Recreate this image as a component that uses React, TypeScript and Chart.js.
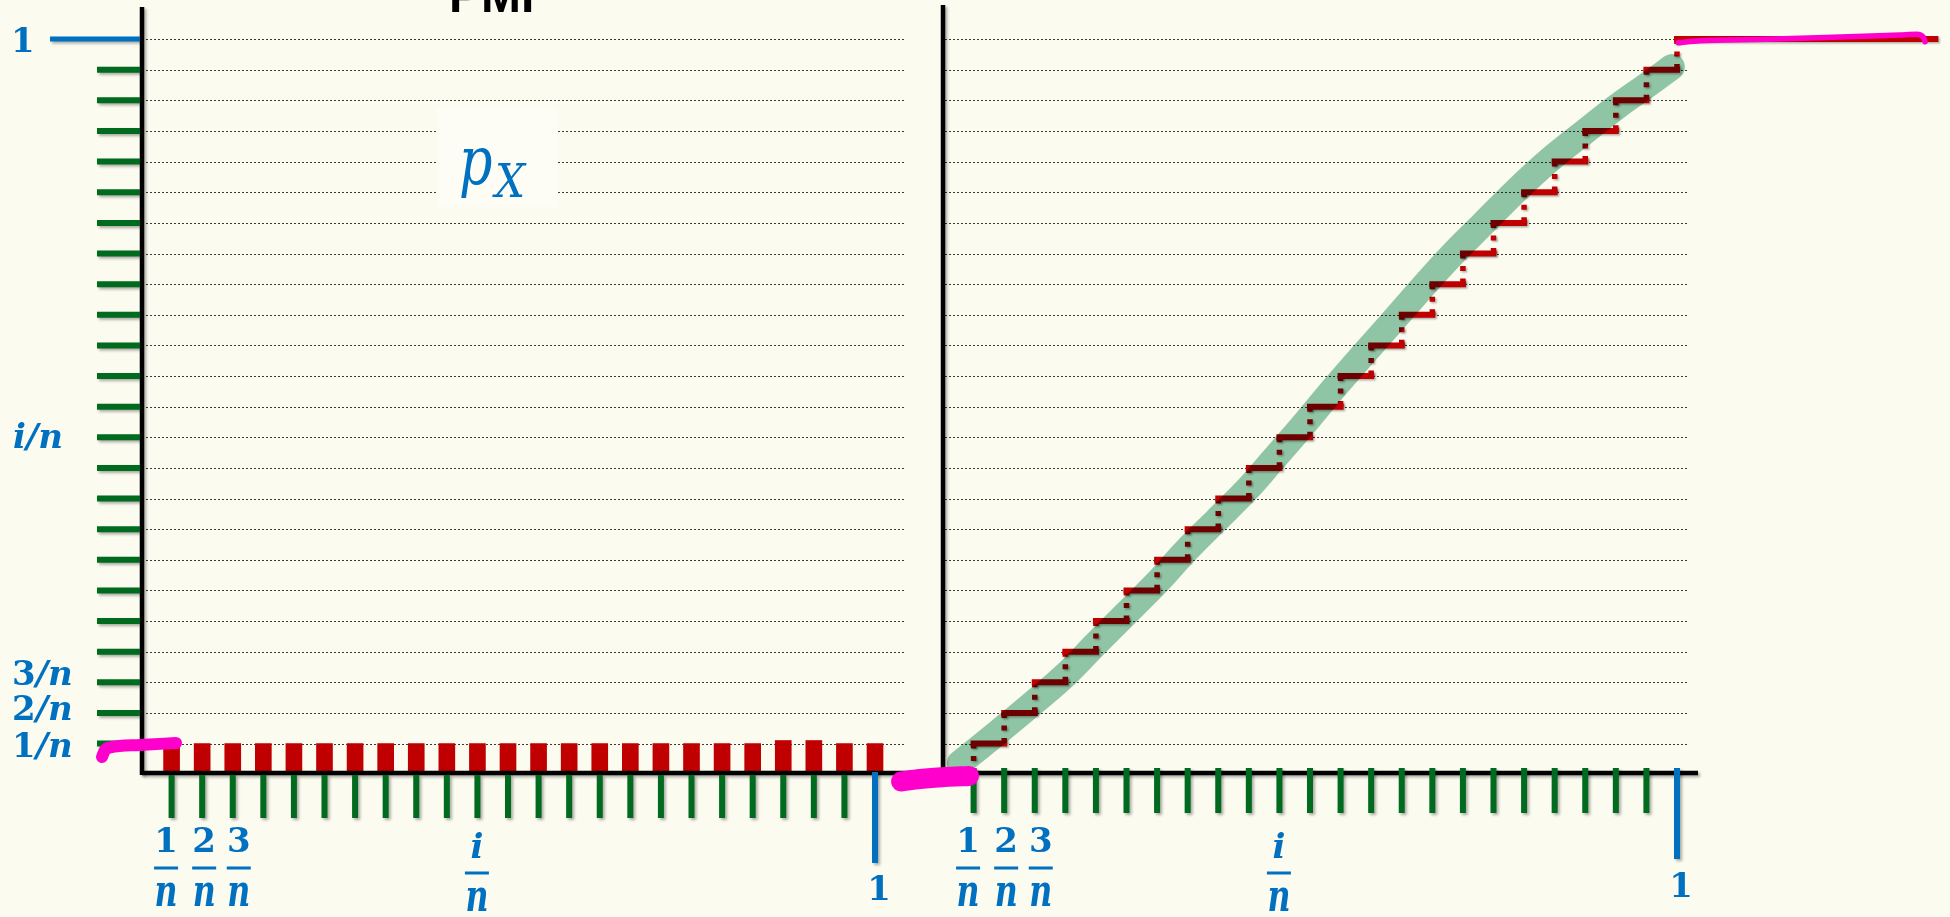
import React, { useEffect, useRef } from "react";
import { Chart, registerables } from "chart.js";

Chart.register(...registerables);

const W = 1950;
const H = 917;

// ---------------- data ----------------
const n = 24;
const tickIndex = [1, 2, 3, 4, 5, 6, 7, 8, 9, 10, 11, 12, 13, 14, 15, 16, 17, 18, 19, 20, 21, 22, 23, 24];
// PMF bar heights in grid units (1 unit = 1/n)
const pmfHeights = [1, 1, 1, 1, 1, 1, 1, 1, 1, 1, 1, 1, 1, 1, 1, 1, 1, 1, 1, 1, 1.1, 1.1, 1, 1];
// CDF step levels in grid units
const cdfLevels = [1, 2, 3, 4, 5, 6, 7, 8, 9, 10, 11, 12, 13, 14, 15, 16, 17, 18, 19, 20, 21, 22, 23, 24];
const cdfTailEnd = 1.352;
// hand-drawn green band along the CDF
const bandX = [0.023, 0.075, 0.128, 0.169, 0.209, 0.25, 0.291, 0.332, 0.373, 0.414, 0.45, 0.49, 0.53, 0.57, 0.61, 0.652, 0.694, 0.736, 0.782, 0.827, 0.872, 0.918, 0.963, 0.993];
const bandY = [0.015, 0.057, 0.101, 0.137, 0.178, 0.219, 0.26, 0.305, 0.346, 0.387, 0.428, 0.474, 0.522, 0.568, 0.613, 0.661, 0.707, 0.749, 0.795, 0.836, 0.872, 0.908, 0.94, 0.962];
// pink highlighter strokes
const pinkLeftX = [-0.0531, -0.049, -0.0422, -0.0014, 0.0477];
const pinkLeftY = [0.0234, 0.0329, 0.0363, 0.0397, 0.0425];
const pinkMidX = [-0.0572, -0.0313, 0.0027, 0.0354];
const pinkMidY = [-0.0099, -0.0065, -0.0038, -0.0024];
const pinkTopX = [1.0018, 1.0313, 1.1222, 1.2125, 1.3038, 1.3266, 1.3356, 1.3379];
const pinkTopY = [0.9951, 0.9978, 0.9997, 1.0025, 1.0057, 1.0065, 1.0025, 0.9965];
// labels
const yLabelLevels = [24, 11, 3, 2, 1];
const yLabelTexts = ["1", "i/n", "3/n", "2/n", "1/n"];
const xFracTicks = [1, 2, 3, 11];
const xFracNumerators = ["1", "2", "3", "i"];
const xFracDenominator = "n";
const xEndTick = 24;
const xEndLabel = "1";
const titleText = "PMF";

// ---------------- styling / layout ----------------
const BG = "#fbfbf0";
const RED = "#c00000";
const GREEN = "#006a1e";
const BLUE = "#0070c0";
const PINK = "#ff00cc";
const BAND = "rgb(145,199,174)";
const X0L = 141;
const X0R = 943;
const UX = 734;
const Y0 = 774.2;
const UY = 735.1;
const SERIF = '"DejaVu Serif"';

type Seg = { t: string; f: string };

function segsFor(text: string, size: number): Seg[] {
  return text.split("").map((ch) => ({
    t: ch,
    f: /[0-9]/.test(ch) ? `bold ${size}px ${SERIF}` : `italic bold ${size}px ${SERIF}`,
  }));
}

function drawSegs(ctx: CanvasRenderingContext2D, segs: Seg[], x: number, y: number, center: boolean, sx = 1) {
  ctx.save();
  let total = 0;
  const widths = segs.map((s) => {
    ctx.font = s.f;
    const w = ctx.measureText(s.t).width;
    total += w;
    return w;
  });
  ctx.translate(x, y);
  ctx.scale(sx, 1);
  ctx.textAlign = "left";
  ctx.textBaseline = "alphabetic";
  let cx = center ? -total / 2 : 0;
  segs.forEach((s, i) => {
    ctx.font = s.f;
    ctx.fillText(s.t, cx, 0);
    cx += widths[i];
  });
  ctx.restore();
}

function line(ctx: CanvasRenderingContext2D, x1: number, y1: number, x2: number, y2: number) {
  ctx.beginPath();
  ctx.moveTo(x1, y1);
  ctx.lineTo(x2, y2);
  ctx.stroke();
}

function setShadow(ctx: CanvasRenderingContext2D) {
  ctx.shadowColor = "rgba(0,0,0,0.32)";
  ctx.shadowBlur = 3;
  ctx.shadowOffsetX = 2;
  ctx.shadowOffsetY = 2;
}

function drawAxes(chart: any) {
  const ctx: CanvasRenderingContext2D = chart.ctx;
  const y = chart.scales.y;
  const xL = chart.scales.xL;
  const xR = chart.scales.xR;
  ctx.save();
  setShadow(ctx);
  ctx.lineCap = "butt";
  ctx.strokeStyle = "#000";
  ctx.lineWidth = 4.5;
  line(ctx, 142, 7, 142, 775);
  line(ctx, 943, 5, 943, 775);
  line(ctx, 142, 773, 1698, 773);

  // y ticks (left panel)
  cdfLevels.forEach((lv) => {
    const py = y.getPixelForValue(lv / n);
    if (lv === n) {
      ctx.strokeStyle = BLUE;
      ctx.lineWidth = 5;
      line(ctx, 50, py, 140, py);
    } else {
      ctx.strokeStyle = GREEN;
      ctx.lineWidth = 6;
      line(ctx, 97, py, 140, py);
    }
  });

  // x ticks
  tickIndex.forEach((k) => {
    const pl = xL.getPixelForValue(k / n);
    const pr = xR.getPixelForValue(k / n);
    ctx.lineWidth = 6;
    if (k === xEndTick) {
      ctx.strokeStyle = BLUE;
      line(ctx, pl, 772, pl, 863);
      line(ctx, pr, 768, pr, 859);
    } else {
      ctx.strokeStyle = GREEN;
      line(ctx, pl, 775, pl, 818);
      line(ctx, pr, 768, pr, 813);
    }
  });
  ctx.restore();
}

const decor = {
  id: "decor",
  beforeDraw(chart: any) {
    const ctx: CanvasRenderingContext2D = chart.ctx;
    ctx.save();
    ctx.fillStyle = BG;
    ctx.fillRect(0, 0, chart.width, chart.height);
    ctx.restore();
  },
  beforeDatasetsDraw(chart: any) {
    const ctx: CanvasRenderingContext2D = chart.ctx;
    const y = chart.scales.y;
    const xL = chart.scales.xL;
    const xR = chart.scales.xR;
    ctx.save();
    // dotted grid lines
    ctx.strokeStyle = "rgba(25,25,25,0.85)";
    ctx.lineWidth = 1;
    ctx.setLineDash([2, 2]);
    cdfLevels.forEach((lv) => {
      const py = Math.round(y.getPixelForValue(lv / n)) + 0.5;
      ctx.beginPath();
      ctx.moveTo(134, py);
      ctx.lineTo(905, py);
      ctx.moveTo(941, py);
      ctx.lineTo(1688, py);
      ctx.stroke();
    });
    ctx.setLineDash([]);

    // p_X label box
    ctx.fillStyle = "#fdfdf6";
    ctx.fillRect(437, 108, 121, 99);
    ctx.fillStyle = BLUE;
    ctx.save();
    ctx.translate(459, 184);
    ctx.scale(0.78, 1);
    ctx.font = `italic 67px ${SERIF}`;
    ctx.fillText("p", 0, 0);
    ctx.restore();
    ctx.save();
    ctx.translate(495, 197);
    ctx.scale(0.92, 1);
    ctx.font = `italic 46px ${SERIF}`;
    ctx.fillText("X", 0, 0);
    ctx.restore();

    // title (mostly cut off at the top)
    ctx.fillStyle = "#000";
    ctx.font = 'bold 48px "Liberation Sans"';
    ctx.fillText(titleText, 449, 12);

    // y labels
    ctx.fillStyle = BLUE;
    const yOff = [13, 11, 3, 7, 13];
    const xPos = [11, 13, 12, 12, 12];
    yLabelLevels.forEach((lv, i) => {
      const py = y.getPixelForValue(lv / n) + yOff[i];
      drawSegs(ctx, segsFor(yLabelTexts[i], 34), xPos[i], py, false);
    });

    // x fraction labels, both panels
    const dx = [-5.5, 2, 6, -0.5];
    const numBase = [852, 852, 852, 858];
    const barY = [868, 868, 868, 873];
    const denBase = [906, 906, 906, 911];
    [xL, xR].forEach((sc) => {
      xFracTicks.forEach((k, i) => {
        const cx = sc.getPixelForValue(k / n) + dx[i];
        drawSegs(ctx, segsFor(xFracNumerators[i], 34), cx, numBase[i], true);
        ctx.fillRect(cx - 12, barY[i] - 1.5, 24, 3);
        drawSegs(ctx, [{ t: xFracDenominator, f: `italic bold 44px ${SERIF}` }], cx, denBase[i], true, 0.72);
      });
      const ex = sc.getPixelForValue(xEndTick / n) + 4;
      drawSegs(ctx, segsFor(xEndLabel, 34), ex, sc === xL ? 900 : 897, true);
    });
    ctx.restore();
  },
  beforeDatasetDraw(chart: any, args: any) {
    const lbl = chart.data.datasets[args.index].label;
    const ctx: CanvasRenderingContext2D = chart.ctx;
    if (lbl === "band") {
      ctx.save();
      ctx.globalCompositeOperation = "multiply";
    } else if (lbl === "stepsH" || lbl === "stepsV") {
      ctx.save();
      ctx.shadowColor = "rgba(0,0,0,0.3)";
      ctx.shadowBlur = 2;
      ctx.shadowOffsetX = 1.5;
      ctx.shadowOffsetY = 1.5;
    }
  },
  afterDatasetDraw(chart: any, args: any) {
    const lbl = chart.data.datasets[args.index].label;
    if (lbl === "band" || lbl === "stepsH" || lbl === "stepsV") chart.ctx.restore();
    if (lbl === "pmf") drawAxes(chart);
  },
};

function zipXY(xs: number[], ys: number[]) {
  return xs.map((x, i) => ({ x, y: ys[i] }));
}

export default function App() {
  const ref = useRef<HTMLCanvasElement | null>(null);

  useEffect(() => {
    document.body.style.margin = "0";
    document.body.style.background = BG;
    if (!ref.current) return;

    const stepsH: { x: number; y: number | null }[] = [];
    cdfLevels.forEach((lv, i) => {
      const x1 = tickIndex[i] / n;
      const x2 = i < cdfLevels.length - 1 ? tickIndex[i + 1] / n : cdfTailEnd;
      stepsH.push({ x: x1, y: lv / n }, { x: x2, y: lv / n }, { x: x2, y: null });
    });
    const stepsV: { x: number; y: number | null }[] = [];
    cdfLevels.forEach((lv, i) => {
      const x = tickIndex[i] / n;
      stepsV.push({ x, y: lv / n }, { x, y: (lv - 1) / n }, { x, y: null });
    });

    const chart = new Chart(ref.current, {
      type: "bar",
      data: {
        datasets: [
          {
            type: "bar",
            label: "pmf",
            data: tickIndex.map((k, i) => ({ x: k / n, y: pmfHeights[i] / n })),
            backgroundColor: RED,
            borderWidth: 0,
            barThickness: 16,
            grouped: false,
            xAxisID: "xL",
            yAxisID: "y",
            order: 10,
          } as any,
          {
            type: "line",
            label: "stepsH",
            data: stepsH,
            borderColor: RED,
            borderWidth: 6,
            borderCapStyle: "square",
            pointRadius: 0,
            spanGaps: false,
            fill: false,
            xAxisID: "xR",
            yAxisID: "y",
            order: 6,
          } as any,
          {
            type: "line",
            label: "stepsV",
            data: stepsV,
            borderColor: RED,
            borderWidth: 5.5,
            borderDash: [5, 7.5],
            borderCapStyle: "butt",
            pointRadius: 0,
            spanGaps: false,
            fill: false,
            xAxisID: "xR",
            yAxisID: "y",
            order: 6,
          } as any,
          {
            type: "line",
            label: "band",
            data: zipXY(bandX, bandY),
            borderColor: BAND,
            borderWidth: 26,
            borderCapStyle: "round",
            borderJoinStyle: "round",
            tension: 0.35,
            pointRadius: 0,
            fill: false,
            xAxisID: "xR",
            yAxisID: "y",
            order: 4,
          } as any,
          {
            type: "line",
            label: "pinkLeft",
            data: zipXY(pinkLeftX, pinkLeftY),
            borderColor: PINK,
            borderWidth: 12,
            borderCapStyle: "round",
            borderJoinStyle: "round",
            cubicInterpolationMode: "monotone",
            pointRadius: 0,
            fill: false,
            xAxisID: "xL",
            yAxisID: "y",
            order: 1,
          } as any,
          {
            type: "line",
            label: "pinkMid",
            data: zipXY(pinkMidX, pinkMidY),
            borderColor: PINK,
            borderWidth: 20,
            borderCapStyle: "round",
            borderJoinStyle: "round",
            cubicInterpolationMode: "monotone",
            pointRadius: 0,
            fill: false,
            xAxisID: "xR",
            yAxisID: "y",
            order: 1,
          } as any,
          {
            type: "line",
            label: "pinkTop",
            data: zipXY(pinkTopX, pinkTopY),
            borderColor: PINK,
            borderWidth: 5.5,
            borderCapStyle: "round",
            borderJoinStyle: "round",
            cubicInterpolationMode: "monotone",
            pointRadius: 0,
            fill: false,
            xAxisID: "xR",
            yAxisID: "y",
            order: 1,
          } as any,
        ],
      },
      options: {
        responsive: false,
        animation: false,
        devicePixelRatio: 1,
        events: [],
        layout: { padding: 0 },
        plugins: {
          legend: { display: false },
          tooltip: { enabled: false },
          title: { display: false },
        },
        scales: {
          xL: {
            type: "linear",
            axis: "x",
            display: false,
            offset: false,
            min: -X0L / UX,
            max: (W - X0L) / UX,
          },
          xR: {
            type: "linear",
            axis: "x",
            display: false,
            offset: false,
            min: -X0R / UX,
            max: (W - X0R) / UX,
          },
          y: {
            type: "linear",
            display: false,
            min: -(H - Y0) / UY,
            max: Y0 / UY,
          },
        },
      } as any,
      plugins: [decor as any],
    });

    return () => chart.destroy();
  }, []);

  return (
    <div style={{ width: W, height: H }}>
      <canvas ref={ref} width={W} height={H} style={{ display: "block" }} />
    </div>
  );
}
